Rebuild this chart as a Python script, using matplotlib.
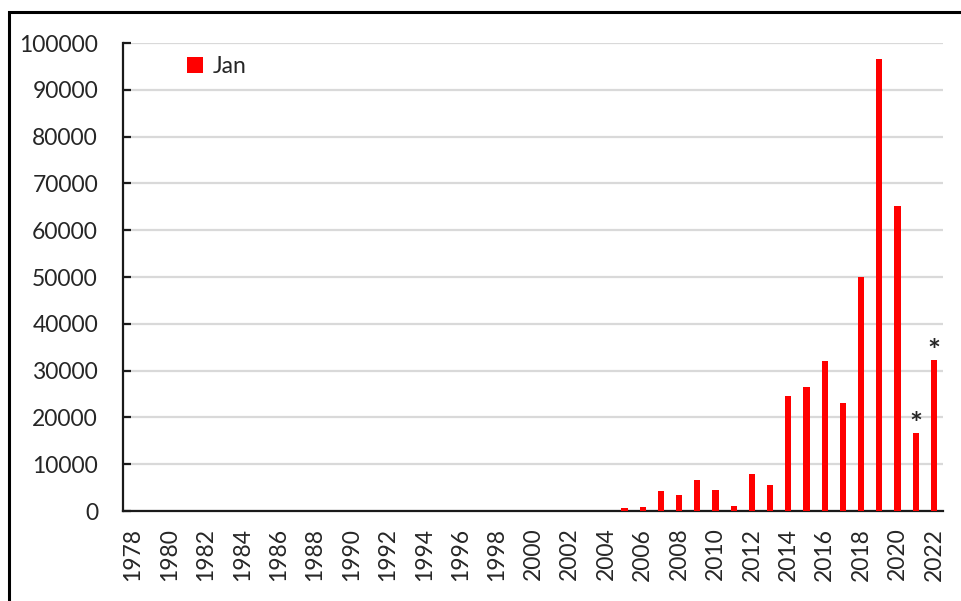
import matplotlib
matplotlib.use("Agg")
import matplotlib.pyplot as plt
from matplotlib.patches import Rectangle

years = list(range(1978, 2023))
jan_values = [0] * 27 + [600, 900, 4200, 3450, 6700, 4500, 1150, 7850, 5650,
                         24500, 26500, 32000, 23000, 50000, 96600, 65100, 16600, 32200]
starred_years = [2021, 2022]
tick_labels = [str(y) for y in years[::2]]

plt.rcParams['font.family'] = ['Lato', 'DejaVu Sans']
text_color = '#262626'

fig = plt.figure(figsize=(9.61, 6.01), dpi=100)
W, H = 961, 601
ax = fig.add_axes([123 / W, 1 - 511 / H, (943 - 123) / W, (511 - 43) / H])

x = list(range(len(years)))
ax.bar(x, jan_values, width=0.34, color='#ff0000', label='Jan', zorder=3)

for yr in starred_years:
    i = years.index(yr)
    ax.annotate('*', xy=(i, jan_values[i]), xytext=(0, -4), textcoords='offset points',
                ha='center', va='bottom', fontsize=22, fontweight='bold', color=text_color)

ax.set_xlim(-0.55, len(years) - 0.5)
ax.set_ylim(0, 100000)
ax.set_yticks(range(0, 100001, 10000))
ax.set_yticklabels([str(v) for v in range(0, 100001, 10000)])
ax.set_xticks(x[::2])
ax.set_xticklabels(tick_labels, rotation=90)

ax.yaxis.grid(True, color='#d9d9d9', linewidth=1.6, zorder=0)
ax.set_axisbelow(True)
for s in ['top', 'right']:
    ax.spines[s].set_visible(False)
ax.spines['left'].set_linewidth(1.6)
ax.spines['bottom'].set_linewidth(1.6)
ax.spines['left'].set_color('#1a1a1a')
ax.spines['bottom'].set_color('#1a1a1a')

ax.tick_params(axis='y', direction='in', length=6, width=1.6, color='#1a1a1a',
               pad=18, labelsize=16.5, labelcolor=text_color)
ax.tick_params(axis='x', length=0, pad=12, labelsize=16.5, labelcolor=text_color)

leg = ax.legend(loc='upper left', bbox_to_anchor=(0.053, 1.017), frameon=False,
                fontsize=16.5, handlelength=0.7, handleheight=0.7, handletextpad=0.4,
                labelcolor=text_color)

# outer frame
fig.patches.append(Rectangle((9 / W, -0.1), 1.2, 1 - 12 / H + 0.1, transform=fig.transFigure,
                             fill=False, edgecolor='black', linewidth=2.2, figure=fig))

fig.savefig('out.png', dpi=100)
